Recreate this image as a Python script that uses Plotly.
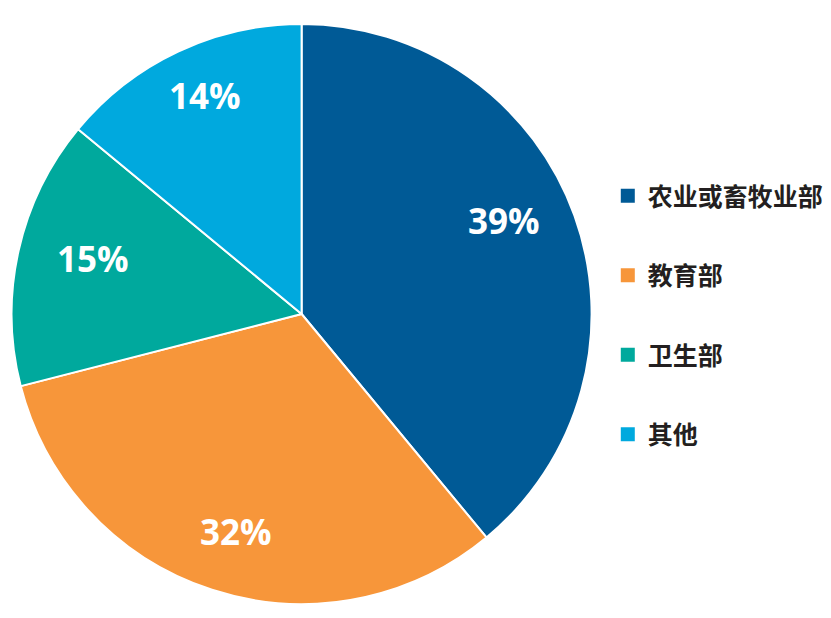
import math
import plotly.graph_objects as go

# Share of spending by ministry (percent)
categories = ["农业或畜牧业部", "教育部", "卫生部", "其他"]
shares = [39, 32, 15, 14]
colors = ["#005a96", "#f7963a", "#00a99d", "#00a9de"]

W, H = 831, 618
# pie domain in paper fractions
dom_x = [11.6 / W, 591.6 / W]
dom_y = [14 / H, 594 / H]

# label placement along each slice: radius as fraction of R, angular nudge (deg)
label_r = [0.764, 0.792, 0.741, 0.818]
label_nudge = [-4.5, -1.3, 1.8, 1.3]

fig = go.Figure()
fig.add_trace(go.Pie(
    labels=categories,
    values=shares,
    marker=dict(colors=colors, line=dict(color="white", width=2)),
    sort=False,
    direction="clockwise",
    rotation=0,
    textinfo="none",
    hoverinfo="label+percent",
    showlegend=False,
    domain=dict(x=dom_x, y=dom_y),
))

# percentage labels placed along each slice's bisector
cx = (dom_x[0] + dom_x[1]) / 2 * W
cy = (dom_y[0] + dom_y[1]) / 2 * H
R = (dom_x[1] - dom_x[0]) * W / 2
total = sum(shares)
cum = 0
annotations = []
for v, rf, nd in zip(shares, label_r, label_nudge):
    mid = (cum + v / 2) / total * 2 * math.pi + math.radians(nd)
    cum += v
    r = rf * R
    px = cx + r * math.sin(mid)
    py = cy + r * math.cos(mid) + 2
    annotations.append(dict(
        x=px / W, y=py / H, xref="paper", yref="paper",
        text=f"<b>{v}%</b>", showarrow=False,
        font=dict(family="Open Sans", size=35, color="white"),
        xanchor="center", yanchor="middle",
    ))

# legend entries
for name, col in zip(categories, colors):
    fig.add_trace(go.Scatter(
        x=[None], y=[None], mode="markers", name=name,
        marker=dict(symbol="square", size=14, color=col),
        legendgroup=name, showlegend=True,
    ))

fig.update_layout(
    width=W, height=H,
    margin=dict(l=0, r=0, t=0, b=0),
    paper_bgcolor="white",
    plot_bgcolor="white",
    xaxis=dict(visible=False),
    yaxis=dict(visible=False),
    annotations=annotations,
    legend=dict(
        x=0.7314, y=0.72, xanchor="left", yanchor="top",
        font=dict(family="Noto Sans CJK SC", size=25, color="#231f20",
                  weight="bold"),
        tracegroupgap=44,
        itemwidth=30,
    ),
)

fig.write_html("out.html")
